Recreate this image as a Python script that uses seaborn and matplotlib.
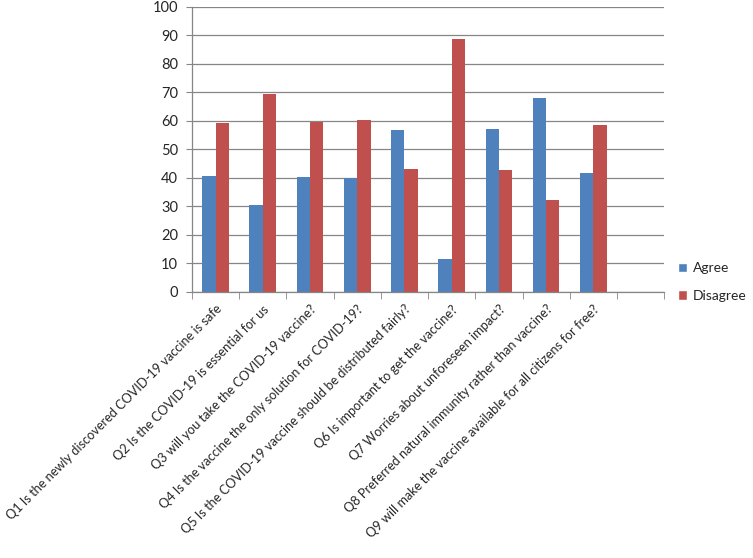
#!/usr/bin/env python
"""
Grouped bar chart of agree / disagree answers to COVID-19 vaccine questions.
"""
# Third-party
import matplotlib

matplotlib.use("Agg")
import matplotlib.pyplot as plt  # noqa: E402
import numpy as np  # noqa: E402
import pandas as pd  # noqa: E402
import seaborn as sns  # noqa: E402
from matplotlib.patches import Patch  # noqa: E402

# Data
QUESTIONS = [
    "Q1 Is the newly discovered COVID-19 vaccine is safe",
    "Q2 Is the COVID-19 is essential for us",
    "Q3 will you take the COVID-19 vaccine?",
    "Q4 Is the vaccine the only solution for COVID-19?",
    "Q5 Is the COVID-19 vaccine should be distributed fairly?",
    "Q6 Is important to get the vaccine?",
    "Q7 Worries about unforeseen impact?",
    "Q8 Preferred natural immunity rather than vaccine?",
    "Q9 will make the vaccine available for all citizens for free?",
]
AGREE = [40.6, 30.4, 40.4, 39.8, 56.9, 11.5, 57.1, 67.9, 41.6]
DISAGREE = [59.3, 69.4, 59.5, 60.2, 43.0, 88.5, 42.8, 32.1, 58.4]
SERIES = ["Agree", "Disagree"]
COLORS = ["#4F81BD", "#C0504D"]
Y_TICKS = list(range(0, 101, 10))

# One empty slot at the end, like the source sheet
N_SLOTS = len(QUESTIONS) + 1

data = pd.DataFrame(
    {
        "Question": QUESTIONS * 2,
        "Percent": AGREE + DISAGREE,
        "Answer": [SERIES[0]] * len(QUESTIONS) + [SERIES[1]] * len(QUESTIONS),
    }
)

sns.set_style("white")
plt.rcParams["font.family"] = ["Lato", "DejaVu Sans"]

fig = plt.figure(figsize=(7.53, 5.58), dpi=100)
ax = fig.add_axes([0.255, 0.477, 0.627, 0.511])

sns.barplot(
    data,
    x="Question",
    y="Percent",
    hue="Answer",
    order=QUESTIONS,
    hue_order=SERIES,
    palette=COLORS,
    width=0.565,
    saturation=1,
    linewidth=0,
    legend=False,
    ax=ax,
)

grid_color = "#868686"
ax.set_xlim(-0.5, N_SLOTS - 0.5)
ax.set_ylim(0, 100)
ax.set_yticks(Y_TICKS)
ax.yaxis.grid(True, color=grid_color, linewidth=0.9)
ax.set_axisbelow(True)
ax.tick_params(axis="y", labelsize=10.5, length=4, color=grid_color,
               pad=6, left=True)

# Category labels at the centres, tick marks at the slot boundaries
ax.set_xticks(np.arange(len(QUESTIONS)))
ax.set_xticklabels(QUESTIONS, rotation=45, ha="right",
                   rotation_mode="anchor", fontsize=9.2)
ax.set_xticks(np.arange(N_SLOTS + 1) - 0.5, minor=True)
ax.tick_params(axis="x", which="major", length=0, pad=8)
ax.tick_params(axis="x", which="minor", length=5, color=grid_color,
               bottom=True)

for side in ["top", "right"]:
    ax.spines[side].set_visible(False)
for side in ["left", "bottom"]:
    ax.spines[side].set_color(grid_color)
    ax.spines[side].set_linewidth(0.9)

ax.set_xlabel("")
ax.set_ylabel("")

handles = [Patch(facecolor=c, label=s) for c, s in zip(COLORS, SERIES)]
fig.legend(
    handles=handles,
    loc="upper left",
    bbox_to_anchor=(0.9, 0.53),
    frameon=False,
    fontsize=10,
    handlelength=0.7,
    handleheight=0.7,
    handletextpad=0.4,
    labelspacing=1.1,
    borderaxespad=0,
    borderpad=0,
)

fig.savefig("out.png", dpi=100)
